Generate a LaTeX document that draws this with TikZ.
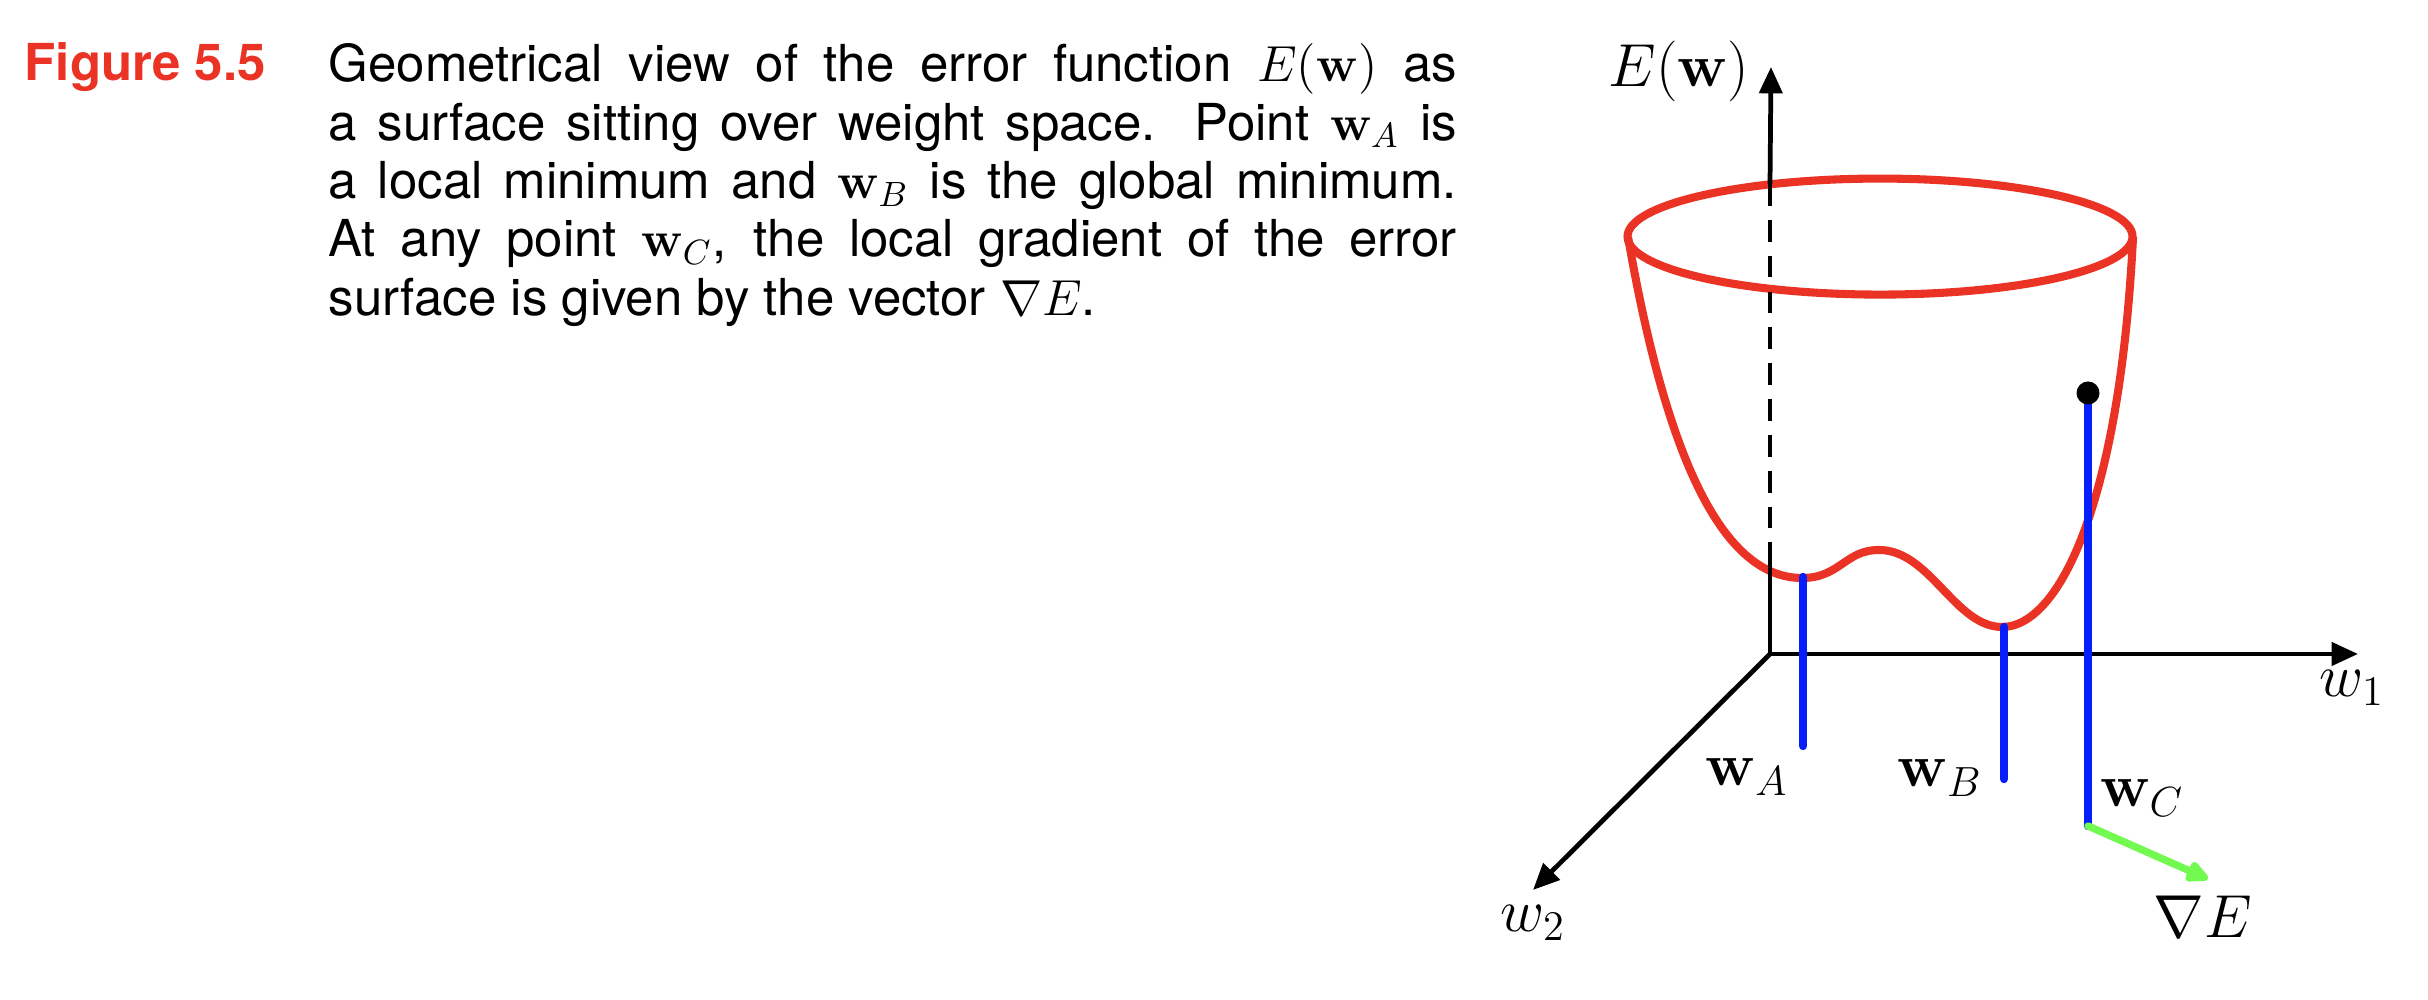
\documentclass[tikz,border=0pt]{standalone}
\usepackage{amsmath,amssymb}
\usepackage[no-math]{fontspec}
\setmainfont{TeX Gyre Heros}
\usepackage{xcolor}
\usetikzlibrary{arrows.meta,positioning,calc}

\definecolor{figred}{RGB}{234,51,36}
\definecolor{wblue}{RGB}{5,30,250}
\definecolor{gradgreen}{RGB}{115,250,80}

\begin{document}
\begin{tikzpicture}[
    axis/.style={black, line width=1.35pt},
    axisarrow/.style={axis, -{Triangle[length=7.5pt,width=6.5pt]}},
    surface/.style={figred, line width=2.3pt},
    weightline/.style={wblue, line width=2.4pt, line cap=round},
    gradarrow/.style={gradgreen, line width=2.1pt, line cap=round, -{Triangle[length=7.5pt,width=6.5pt,round]}},
    lbl/.style={inner sep=0pt, font=\fontsize{16.8}{20}\selectfont}
  ]
    \useasboundingbox (0,0) rectangle (24.28,10);

    % caption
    \node[anchor=base west, inner sep=0pt, text=figred, font=\fontsize{14.5}{16.6}\selectfont\bfseries] (figlabel) at (0.24,9.19) {Figure 5.5};
    \node[anchor=north west, inner sep=0pt, text width=321pt, align=justify, font=\fontsize{14.5}{16.6}\selectfont] (caption) at (3.28,9.597)
      {\strut Geometrical view of the error function $E(\mathbf{w})$ as\linebreak
       a surface sitting over weight space. Point $\mathbf{w}_A$ is\linebreak
       a local minimum and $\mathbf{w}_B$ is the global minimum.\linebreak
       At any point $\mathbf{w}_C$, the local gradient of the error\linebreak
       surface is given by the vector $\nabla E$.};

    % error surface
    \draw[surface] (18.80,7.634) ellipse [x radius=2.525, y radius=0.58];
    \draw[surface] (16.28,7.63) .. controls (16.65,5.5) and (17.2,4.22) .. (18.02,4.22)
      .. controls (18.40,4.22) and (18.45,4.50) .. (18.79,4.50)
      .. controls (19.30,4.50) and (19.55,3.73) .. (20.02,3.73)
      .. controls (20.60,3.73) and (21.20,5.00) .. (21.33,7.63);

    % axes
    \coordinate (O) at (17.70,3.46);
    \coordinate (Erim) at (17.70,8.16);
    \coordinate (Ebot) at (17.70,4.46);
    \node[lbl] (Elabel) at (16.79,9.29) {$E(\mathbf{w})$};
    \node[lbl] (w1label) at (23.52,3.12) {$w_1$};
    \node[lbl] (w2label) at (15.33,0.77) {$w_2$};
    \coordinate (Etip) at (17.71,9.33);
    \coordinate (w1tip) at (23.58,3.46);
    \coordinate (w2tip) at (15.33,1.10);
    \draw[axisarrow] (Erim) -- (Etip);
    \draw[axis, dash pattern=on 6.2pt off 4pt] (Erim) -- (Ebot);
    \draw[axis] (Ebot) -- (O);
    \draw[axisarrow] (O) -- (w1tip);
    \draw[axisarrow] (O) -- (w2tip);

    % weight vectors
    \coordinate (Atop) at (18.03,4.23);
    \coordinate (Abot) at (18.03,2.54);
    \coordinate (Btop) at (20.04,3.73);
    \coordinate (Bbot) at (20.04,2.21);
    \coordinate (Ctop) at (20.88,6.07);
    \coordinate (Cbot) at (20.88,1.74);
    \coordinate (gradtip) at (22.08,1.21);
    \draw[weightline] (Atop) -- (Abot);
    \draw[weightline] (Btop) -- (Bbot);
    \draw[weightline] (Ctop) -- (Cbot);
    \draw[gradarrow] (Cbot) -- (gradtip);
    \fill[black] (Ctop) circle [radius=0.115];

    \node[lbl] (wA) at (17.47,2.23) {$\mathbf{w}_A$};
    \node[lbl] (wB) at (19.40,2.22) {$\mathbf{w}_B$};
    \node[lbl] (wC) at (21.42,2.02) {$\mathbf{w}_C$};
    \node[lbl] (gradE) at (22.03,0.83) {$\nabla E$};
  \end{tikzpicture}
\end{document}
